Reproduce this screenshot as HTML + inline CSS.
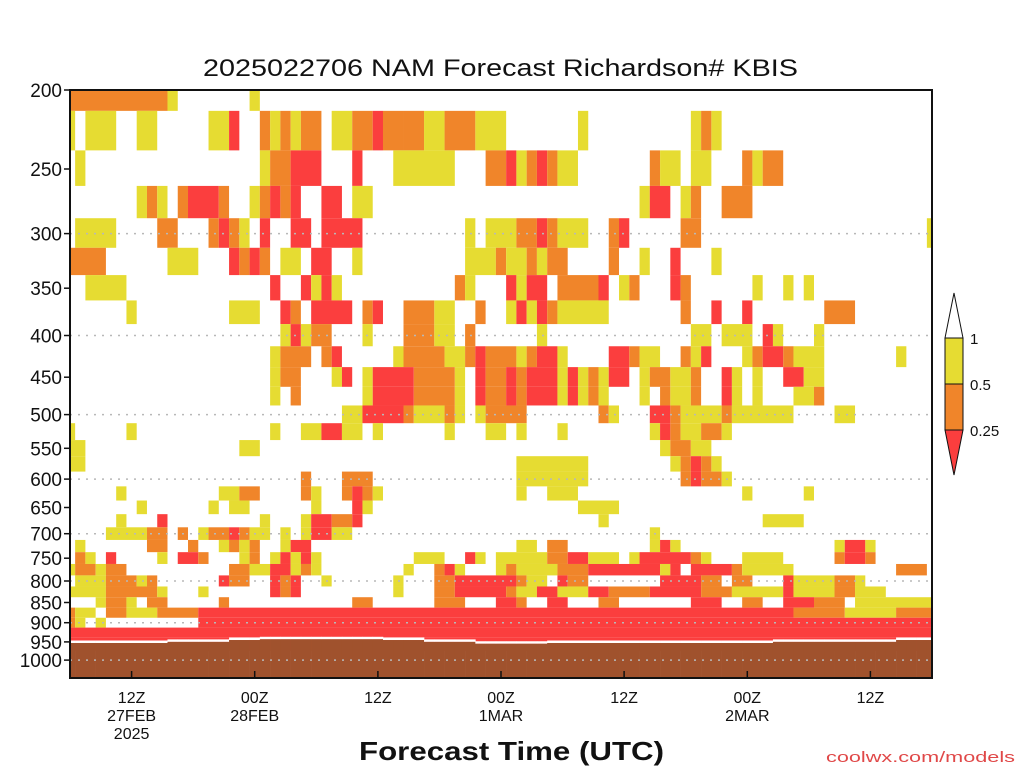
<!DOCTYPE html>
<html><head><meta charset="utf-8"><style>
html,body{margin:0;padding:0;background:#fff;}
svg{display:block;font-family:"Liberation Sans",sans-serif;}
</style></head><body>
<svg id="chart" width="1024" height="768" viewBox="0 0 1024 768" xmlns="http://www.w3.org/2000/svg">
<rect x="0" y="0" width="1024" height="768" fill="#fff"/>
<text x="203" y="76" font-size="24" textLength="595" lengthAdjust="spacingAndGlyphs" fill="#111">2025022706 NAM Forecast Richardson# KBIS</text>
<g id="cells"></g>
<g id="ground"></g>
<g id="grid"></g>
<rect x="70" y="90" width="862" height="588" fill="none" stroke="#111" stroke-width="2"/>
<g id="yaxis"></g>
<g id="xaxis"></g>
<text x="359" y="760" font-size="26" font-weight="bold" textLength="305" lengthAdjust="spacingAndGlyphs" fill="#111">Forecast Time (UTC)</text>
<text x="826" y="762" font-size="15" textLength="189" lengthAdjust="spacingAndGlyphs" fill="#e04848">coolwx.com/models</text>
<g>
<polygon points="954,293 945,338 963,338" fill="#fff" stroke="#111" stroke-width="1"/>
<rect x="945" y="338" width="18" height="46" fill="#e6dc32" stroke="#111" stroke-width="1"/>
<rect x="945" y="384" width="18" height="46" fill="#f0852a" stroke="#111" stroke-width="1"/>
<polygon points="945,430 963,430 954,475" fill="#fb3e3e" stroke="#111" stroke-width="1"/>
<text x="970" y="344" font-size="15" fill="#111">1</text>
<text x="970" y="390" font-size="15" fill="#111">0.5</text>
<text x="970" y="436" font-size="15" fill="#111">0.25</text>
</g>
</svg>
<script>
const levels = [200,225,250,275,300,325,350,375,400,425,450,475,500,525,550,575,600,625,650,675,700,725,750,775,800,825,850,875,900,925,950];
// runs per level: [startHour, endHour, category] (1: 0.5-1, 2: 0.25-0.5, 3: <0.25)
const runs200 = [[0,9,2],[10,10,1],[18,18,1]];
const runs225 = [[0,0,1],[2,4,1],[7,8,1],[14,15,1],[16,16,3],[19,19,2],[20,20,1],[21,21,2],[22,22,1],[23,24,2],[26,27,1],[28,29,2],[30,30,3],[31,32,2],[33,34,2],[35,36,1],[37,39,2],[40,42,1],[50,50,1],[61,61,1],[62,62,2],[63,63,1]];
const runs250 = [[1,1,1],[19,19,1],[20,21,2],[22,24,3],[28,28,3],[32,37,1],[41,42,2],[43,43,3],[44,44,1],[45,45,2],[46,46,3],[47,47,2],[48,49,1],[57,57,2],[58,59,1],[61,62,1],[66,66,2],[67,67,1],[68,69,2]];
const runs275 = [[7,7,1],[8,8,2],[9,9,1],[11,11,2],[12,14,3],[15,15,2],[18,18,1],[19,19,2],[20,20,3],[21,21,2],[22,22,3],[25,26,3],[28,29,1],[56,56,1],[57,58,3],[60,60,1],[61,61,2],[64,66,2]];
const runs300 = [[1,4,1],[9,10,2],[14,14,2],[15,15,3],[16,16,2],[17,17,1],[19,19,3],[22,23,3],[25,28,3],[39,39,1],[41,43,1],[44,45,2],[46,46,3],[47,47,2],[48,50,1],[53,53,2],[54,54,3],[60,61,2],[84,84,1]];
const runs325 = [[0,3,2],[10,12,1],[16,16,3],[17,17,2],[18,18,3],[19,19,2],[21,22,1],[24,25,3],[28,28,1],[39,41,1],[42,42,2],[43,44,1],[45,45,2],[46,46,1],[47,48,2],[53,53,2],[56,56,1],[59,59,3],[63,63,1]];
const runs350 = [[2,5,1],[20,20,3],[23,23,3],[24,24,1],[25,25,3],[26,26,1],[38,38,2],[39,39,1],[43,43,3],[44,44,1],[45,46,3],[48,51,2],[52,52,3],[54,54,1],[55,55,2],[59,59,3],[60,60,2],[67,67,1],[70,70,1],[72,72,1]];
const runs375 = [[6,6,1],[16,18,1],[21,21,3],[22,22,2],[24,27,3],[29,29,2],[30,30,3],[33,35,2],[36,37,1],[40,40,2],[43,43,1],[44,44,3],[45,45,1],[46,46,3],[47,47,2],[48,52,1],[60,60,2],[63,63,3],[66,66,3],[74,76,2]];
const runs400 = [[21,21,1],[22,22,3],[23,23,1],[24,25,2],[29,29,1],[33,35,2],[36,37,1],[39,39,2],[46,46,1],[61,62,1],[64,66,1],[68,68,3],[69,69,1],[73,73,1]];
const runs425 = [[20,20,1],[21,23,2],[25,25,2],[26,26,3],[32,32,1],[33,36,2],[37,38,1],[39,39,2],[40,40,3],[41,43,2],[44,44,1],[45,45,2],[46,47,3],[48,48,1],[53,54,3],[55,55,2],[56,57,1],[60,60,2],[61,61,1],[62,62,3],[66,66,1],[67,67,2],[68,69,3],[70,70,2],[71,73,1],[81,81,1]];
const runs450 = [[20,20,1],[21,22,2],[26,26,1],[27,27,3],[29,29,1],[30,33,3],[34,37,2],[38,38,1],[40,40,3],[41,42,2],[43,43,3],[44,44,2],[45,47,3],[48,48,1],[49,49,3],[50,50,1],[51,51,2],[52,52,1],[53,54,3],[56,56,1],[57,58,2],[59,60,1],[61,61,2],[64,64,3],[65,65,1],[67,67,1],[70,71,3],[72,73,1]];
const runs475 = [[20,20,1],[22,22,2],[29,29,1],[30,33,3],[34,37,2],[38,38,1],[40,40,3],[41,42,2],[43,43,3],[44,44,2],[45,47,3],[48,48,1],[49,49,3],[50,50,1],[51,51,2],[52,52,1],[56,56,1],[58,58,2],[59,60,1],[61,61,2],[64,64,3],[65,65,1],[67,67,1],[71,72,1],[73,73,2]];
const runs500 = [[27,28,1],[29,32,3],[33,33,2],[34,36,1],[37,37,2],[38,38,1],[40,40,1],[41,44,2],[52,52,2],[53,53,1],[57,58,3],[59,59,2],[60,63,1],[64,64,2],[65,70,1],[75,76,1]];
const runs525 = [[0,0,1],[6,6,1],[20,20,1],[23,24,1],[25,26,3],[27,28,1],[30,30,1],[37,37,1],[41,42,1],[44,44,1],[48,48,1],[57,57,1],[58,58,3],[59,59,2],[60,61,1],[62,63,2],[64,64,1]];
const runs550 = [[0,1,1],[17,18,1],[58,58,1],[59,60,2],[61,62,1]];
const runs575 = [[0,1,1],[44,50,1],[59,59,1],[60,60,2],[61,61,3],[62,62,2],[63,63,1]];
const runs600 = [[23,23,2],[27,29,2],[44,50,1],[60,60,2],[61,61,3],[62,63,2],[64,64,1]];
const runs625 = [[5,5,1],[15,16,1],[17,18,2],[23,23,2],[24,24,1],[27,27,2],[28,28,3],[29,29,2],[30,30,1],[44,44,1],[47,49,1],[66,66,1],[72,72,1]];
const runs650 = [[7,7,1],[14,14,1],[16,17,1],[24,24,1],[28,28,3],[29,29,1],[50,53,1]];
const runs675 = [[5,5,1],[9,9,3],[19,19,1],[23,23,1],[24,25,3],[26,27,2],[28,28,3],[52,52,1],[68,71,1]];
const runs700 = [[4,7,1],[8,9,2],[11,11,2],[13,13,1],[14,15,2],[16,16,3],[17,17,2],[18,19,1],[21,21,1],[23,23,1],[24,25,3],[26,27,1],[57,57,1]];
const runs725 = [[1,1,1],[8,9,2],[12,12,2],[15,15,1],[16,16,2],[17,17,1],[18,18,2],[21,21,1],[22,23,3],[44,45,1],[47,48,2],[57,57,1],[58,58,3],[59,59,1],[75,75,1],[76,77,3],[78,78,1]];
const runs750 = [[1,1,2],[2,2,1],[4,4,3],[9,9,1],[11,12,3],[13,13,2],[17,17,1],[18,18,2],[20,20,1],[21,21,3],[22,22,1],[23,23,3],[24,24,1],[34,36,1],[39,39,3],[40,40,1],[42,46,1],[47,48,2],[49,50,3],[51,53,1],[55,55,1],[56,60,3],[61,61,2],[62,62,1],[66,69,1],[75,75,2],[76,77,3],[78,78,2]];
const runs775 = [[0,0,1],[1,2,2],[3,3,1],[4,5,2],[16,17,2],[18,19,1],[20,21,3],[22,22,1],[23,23,2],[24,24,1],[33,33,1],[36,36,2],[37,37,3],[38,38,1],[42,42,1],[43,43,2],[44,47,1],[48,50,2],[51,57,3],[58,58,1],[59,59,3],[61,64,3],[65,65,2],[66,70,1],[81,83,2]];
const runs800 = [[1,3,1],[4,6,2],[7,7,1],[8,8,2],[15,15,3],[16,17,2],[20,20,3],[21,21,2],[22,22,3],[25,25,1],[32,32,1],[36,37,2],[38,43,3],[44,44,2],[45,46,1],[48,48,3],[49,50,2],[58,61,3],[62,63,2],[65,66,2],[70,70,3],[71,74,1],[75,76,2],[77,77,1]];
const runs825 = [[0,3,1],[4,8,2],[9,9,1],[13,13,1],[20,20,3],[21,21,2],[22,22,3],[32,32,1],[36,37,2],[38,42,3],[43,43,2],[44,45,1],[46,47,3],[48,50,1],[51,52,3],[53,56,2],[57,61,3],[62,64,2],[65,69,1],[70,70,3],[71,74,1],[75,76,2],[77,79,1]];
const runs850 = [[3,3,1],[4,5,2],[6,6,1],[8,9,2],[15,15,2],[28,29,2],[36,38,2],[42,43,3],[44,44,2],[47,48,3],[52,53,2],[61,63,3],[66,67,2],[70,72,3],[73,75,2],[77,84,1]];
const runs875 = [[0,0,2],[1,2,1],[4,5,2],[6,8,1],[9,12,2],[13,70,3],[71,75,2],[76,80,1],[81,84,2]];
const runs900 = [[0,0,2],[1,1,1],[3,3,1],[13,84,3]];
const runs925 = [[0,84,3]];
const runs950 = [[0,84,3]];
const levelRuns = [runs200,runs225,runs250,runs275,runs300,runs325,runs350,runs375,runs400,runs425,runs450,runs475,runs500,runs525,runs550,runs575,runs600,runs625,runs650,runs675,runs700,runs725,runs750,runs775,runs800,runs825,runs850,runs875,runs900,runs925,runs950];
const groundP = [953,953,953,953,953,953,953,953,953,953,950,950,950,950,950,950,945,945,945,943,943,943,943,943,943,943,943,943,943,943,943,945,945,945,945,950,950,950,950,950,955,955,955,955,955,955,955,953,953,953,953,953,953,953,953,953,953,953,953,953,953,953,953,953,953,953,953,953,953,950,950,950,950,950,950,950,950,950,950,950,950,945,945,945,945];
const yTicks = [200,250,300,350,400,450,500,550,600,650,700,750,800,850,900,950,1000];
const gridLevels = [300,400,500,600,700,800,900,1000];
const xTickHours = [6,18,30,42,54,66,78];
const xTickLine1 = ["12Z","00Z","12Z","00Z","12Z","00Z","12Z"];
const xTickLine2 = ["27FEB","28FEB","","1MAR","","2MAR",""];
const xTickLine3 = ["2025","","","","","",""];

const colors = {1:"#e6dc32",2:"#f0852a",3:"#fb3e3e"};
const PX0=70, PX1=932, PY0=90, PY1=678;
function yOf(p){ return PY0 + 354.2*Math.log(p/200); }
function xOf(h){ return PX0 + 10.262*h; }
const NS="http://www.w3.org/2000/svg";
function mk(tag, attrs, parent){ const e=document.createElementNS(NS,tag); for(const k in attrs) e.setAttribute(k,attrs[k]); parent.appendChild(e); return e; }

const cellsG=document.getElementById('cells');
levels.forEach((p,k)=>{
  const pTop = k===0 ? 200 : Math.sqrt(levels[k-1]*p);
  const pBot = k===levels.length-1 ? 975 : Math.sqrt(p*levels[k+1]);
  const y0=yOf(pTop), y1=yOf(pBot);
  levelRuns[k].forEach(r=>{
    const x0=Math.max(PX0, xOf(r[0]-0.5)), x1=Math.min(PX1, xOf(r[1]+0.5));
    const el=mk('rect',{x:x0.toFixed(2),y:y0.toFixed(2),width:(x1-x0).toFixed(2),height:(y1-y0).toFixed(2),fill:colors[r[2]]},cellsG);
    
    
  });
});

const groundG=document.getElementById('ground');
groundP.forEach((gp,i)=>{
  const x0=Math.max(PX0, xOf(i-0.5)), x1=Math.min(PX1, xOf(i+0.5));
  const yg=yOf(gp);
  const w=mk('rect',{x:x0.toFixed(2),y:(yg-2.5).toFixed(2),width:(x1-x0+0.3).toFixed(2),height:2.5,fill:"#fff"},groundG);
  
  
  const b=mk('rect',{x:x0.toFixed(2),y:yg.toFixed(2),width:(x1-x0+0.3).toFixed(2),height:(PY1-yg).toFixed(2),fill:"#a0522d"},groundG);
  
  
});

const gridG=document.getElementById('grid');
gridLevels.forEach(p=>{
  const y=yOf(p);
  const l=mk('line',{x1:PX0,x2:PX1,y1:y.toFixed(1),y2:y.toFixed(1),stroke:"#b8b8b8","stroke-width":1.5,"stroke-dasharray":"2,6"},gridG);
  
  
});

const yG=document.getElementById('yaxis');
yTicks.forEach(p=>{
  const y=yOf(p);
  const t=mk('line',{x1:64,x2:70,y1:y.toFixed(1),y2:y.toFixed(1),stroke:"#111","stroke-width":1.5},yG);
  
  
  const tx=mk('text',{x:62,y:(y+7).toFixed(1),"font-size":19,"text-anchor":"end",fill:"#111"},yG);
  tx.textContent=String(p);
  
  
});

const xG=document.getElementById('xaxis');
xTickHours.forEach((h,i)=>{
  const x=xOf(h);
  const t=mk('line',{x1:x.toFixed(1),x2:x.toFixed(1),y1:PY1,y2:PY1-7,stroke:"#111","stroke-width":1.5},xG);
  
  
  [xTickLine1[i],xTickLine2[i],xTickLine3[i]].forEach((s,j)=>{
    if(!s) return;
    const tx=mk('text',{x:x.toFixed(1),y:703+j*18,"font-size":16,"text-anchor":"middle",fill:"#111"},xG);
    tx.textContent=s;
    
    
  });
});
</script>
</body></html>
